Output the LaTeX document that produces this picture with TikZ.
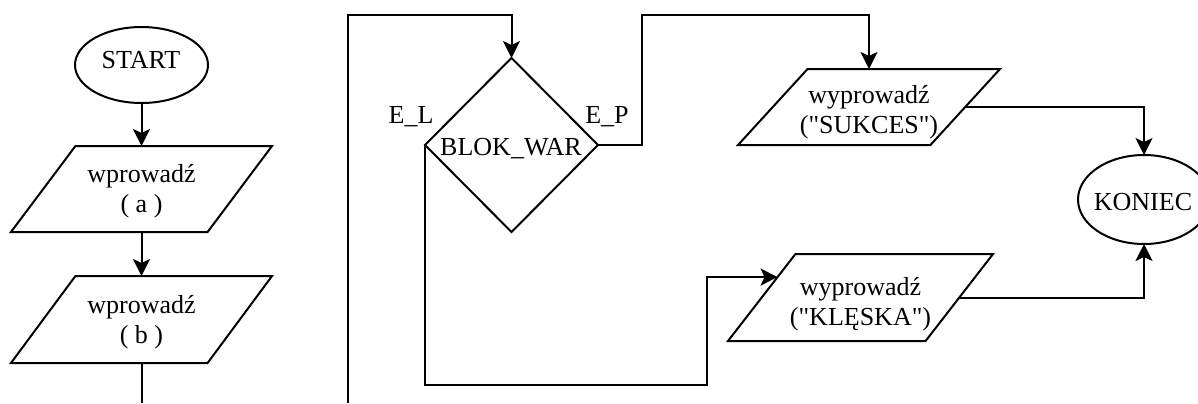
\documentclass[tikz,border=0pt]{standalone}
\usepackage{fontspec}
\setmainfont{Liberation Serif}[Ligatures=TeXOff]
\usetikzlibrary{shapes.geometric,arrows.meta,calc}
\begin{document}
\begin{tikzpicture}[x=0.5pt,y=-0.5pt,
  line width=1pt,
  every node/.style={font=\fontsize{13}{15}\selectfont},
  shapebase/.style={draw, line width=1pt, inner sep=1pt, outer sep=0pt},
  term/.style={shapebase, ellipse},
  io/.style={shapebase, trapezium, trapezium stretches=true},
  decision/.style={shapebase, diamond},
  txt/.style={align=center, inner sep=0pt},
  lbl/.style={inner sep=0pt, anchor=base},
  arr/.style={-{Stealth[length=8.5pt,width=8.5pt,inset=2pt]}}
]
\useasboundingbox (0,0) rectangle (1198,403);

% left column
\node[term, minimum width=66.5pt, minimum height=38pt] (start) at (141.5,65) {};
\node[lbl] (startT) at (141,68) {START};
\node[io, trapezium left angle=64, trapezium right angle=116,
      minimum width=130.5pt, minimum height=43pt] (ina) at (141.5,189) {};
\node[txt] (inaT) at (141.5,191.5) {wprowadź\\( a )};
\node[io, trapezium left angle=64, trapezium right angle=116,
      minimum width=130.5pt, minimum height=43.5pt] (inb) at (141.5,319.5) {};
\node[txt] (inbT) at (141.5,322) {wprowadź\\( b )};

% decision
\node[decision, minimum width=86.5pt, minimum height=87pt] (war) at (511.5,145) {};
\node[lbl] (warT) at (511,155) {BLOK\_WAR};
\node[lbl] (elT) at (411,123) {E\_L};
\node[lbl] (epT) at (607,123) {E\_P};

% outputs
\node[io, trapezium left angle=60.5, trapezium right angle=119.5,
      minimum width=131pt, minimum height=38pt] (sukces) at (869,107) {};
\node[txt] (sukcesT) at (869,112) {wyprowadź\\("SUKCES")};
\node[io, trapezium left angle=62.6, trapezium right angle=117.4,
      minimum width=132.5pt, minimum height=43.5pt] (kleska) at (860.5,297.5) {};
\node[txt] (kleskaT) at (860.5,304) {wyprowadź\\("KLĘSKA")};

% end
\node[term, minimum width=66pt, minimum height=44.5pt] (koniec) at (1144,199.5) {};
\node[lbl] (koniecT) at (1143,210) {KONIEC};

% helper coordinates
\coordinate (bout) at (141.5,403);
\coordinate (loopin) at (348,403);
\coordinate (looptop) at (348,15);
\coordinate (eptop) at (642,15);
\coordinate (elbot) at (707,385);
\coordinate (klin) at ($(kleska.bottom left corner)!0.735!(kleska.top left corner)$);

% connectors
\draw[arr] (start.south) -- (ina.north);
\draw[arr] (ina.south) -- (inb.north);
\draw (inb.south) -- (bout);
\draw[arr] (loopin) -- (looptop) -| (war.north);
\draw[arr] (war.east) -| (eptop) -| (sukces.north);
\draw[arr] (war.west) |- (elbot) |- (klin);
\draw[arr] (sukces.east) -| (koniec.north);
\draw[arr] (kleska.east) -| (koniec.south);
\end{tikzpicture}
\end{document}
